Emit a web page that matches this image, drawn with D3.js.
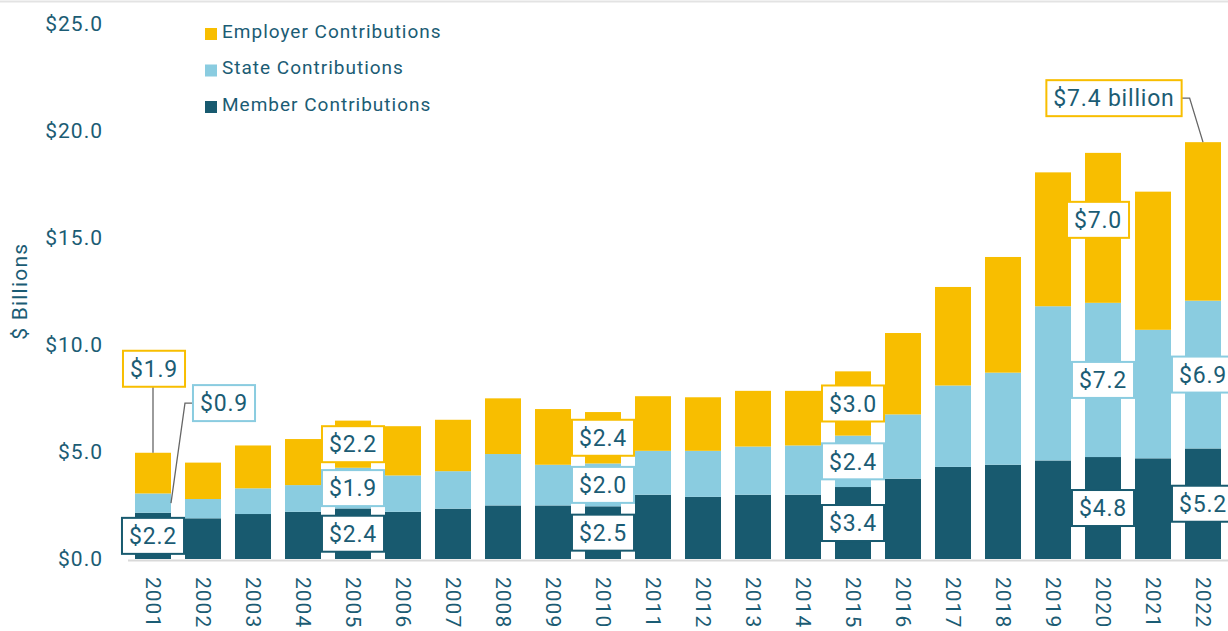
<!DOCTYPE html>
<html>
<head>
<meta charset="utf-8">
<script src="https://cdn.jsdelivr.net/npm/d3@7"></script>
<style>
  html, body { margin: 0; padding: 0; background: #fff; }
  #chart { width: 1228px; height: 631px; }
  text { font-family: Roboto, "DejaVu Sans", sans-serif; }
</style>
</head>
<body>
<div id="chart"></div>
<script>
// values, $ billions
const years = ["2001","2002","2003","2004","2005","2006","2007","2008","2009","2010","2011",
  "2012","2013","2014","2015","2016","2017","2018","2019","2020","2021","2022"];
const member = [2.16, 1.9, 2.1, 2.2, 2.36, 2.2, 2.35, 2.5, 2.5, 2.46, 3.0,
  2.9, 3.0, 3.0, 3.36, 3.75, 4.3, 4.4, 4.6, 4.76, 4.7, 5.16];
const state = [0.9, 0.9, 1.2, 1.25, 1.9, 1.7, 1.75, 2.4, 1.9, 2.0, 2.05,
  2.15, 2.25, 2.3, 2.4, 3.0, 3.8, 4.3, 7.2, 7.2, 6.0, 6.9];
const employer = [1.9, 1.7, 2.0, 2.15, 2.2, 2.3, 2.4, 2.6, 2.6, 2.4, 2.55,
  2.5, 2.6, 2.55, 3.0, 3.8, 4.6, 5.4, 6.25, 7.0, 6.45, 7.4];
const yTicks = [0, 5, 10, 15, 20, 25];

const seriesKeys = ["member", "state", "employer"];
const legendKeys = ["employer", "state", "member"];
const seriesNames = {
  employer: "Employer Contributions",
  state: "State Contributions",
  member: "Member Contributions"
};
const colors = { employer: "#f8be00", state: "#8acce0", member: "#185a6f" };
const textColor = "#1b5c74";

// which segments get a value box (placement is layout, not data)
const callouts = [
  { year: "2001", key: "member", anchor: "mid" },
  { year: "2001", key: "state", anchor: "side", dx: 53, dy: -100 },
  { year: "2001", key: "employer", anchor: "top", dx: 1, dy: -84 },
  { year: "2005", key: "member", anchor: "mid" },
  { year: "2005", key: "state", anchor: "mid" },
  { year: "2005", key: "employer", anchor: "mid" },
  { year: "2010", key: "member", anchor: "mid" },
  { year: "2010", key: "state", anchor: "mid" },
  { year: "2010", key: "employer", anchor: "mid" },
  { year: "2015", key: "member", anchor: "mid" },
  { year: "2015", key: "state", anchor: "mid" },
  { year: "2015", key: "employer", anchor: "mid" },
  { year: "2020", key: "member", anchor: "mid" },
  { year: "2020", key: "state", anchor: "mid" },
  { year: "2020", key: "employer", anchor: "mid", dx: -5, dy: -8 },
  { year: "2022", key: "member", anchor: "mid" },
  { year: "2022", key: "state", anchor: "mid" },
  { year: "2022", key: "employer", anchor: "top", dx: -89, dy: -44, suffix: " billion" }
];

const width = 1228, height = 631;
const margin = { left: 128, right: 0, top: 23.5, bottom: 72 };

const data = years.map((y, i) => ({
  year: y, member: member[i], state: state[i], employer: employer[i]
}));
const stacked = d3.stack().keys(seriesKeys)(data);

const svg = d3.select("#chart").append("svg")
  .attr("width", width)
  .attr("height", height);

// faint rule along the very top
svg.append("line")
  .attr("x1", 0).attr("x2", width)
  .attr("y1", 1.5).attr("y2", 1.5)
  .attr("stroke", "#e3e3e3").attr("stroke-width", 2);

const x = d3.scaleBand()
  .domain(years)
  .range([margin.left, width - margin.right])
  .paddingInner(0.28)
  .paddingOuter(0.14);

const y = d3.scaleLinear()
  .domain([0, 25])
  .range([height - margin.bottom, margin.top]);

// baseline
svg.append("line")
  .attr("x1", margin.left).attr("x2", width)
  .attr("y1", y(0) + 1.5).attr("y2", y(0) + 1.5)
  .attr("stroke", "#d9d9d9").attr("stroke-width", 2);

// bars
svg.append("g")
  .selectAll("g")
  .data(stacked)
  .join("g")
    .attr("fill", (s) => colors[s.key])
  .selectAll("rect")
  .data((s) => s)
  .join("rect")
    .attr("x", (d) => x(d.data.year))
    .attr("width", x.bandwidth())
    .attr("y", (d) => y(d[1]))
    .attr("height", (d) => y(d[0]) - y(d[1]));

// y axis
const yAxis = svg.append("g")
  .attr("transform", "translate(106,0)")
  .call(d3.axisLeft(y).tickValues(yTicks).tickSize(0).tickPadding(3)
    .tickFormat((d) => "$" + d.toFixed(1)));
yAxis.select(".domain").remove();
yAxis.selectAll("text")
  .attr("fill", textColor)
  .style("font-size", "21px")
  .style("letter-spacing", "1px");

svg.append("text")
  .attr("transform", `translate(27,${(y(10) + y(15)) / 2}) rotate(-90)`)
  .attr("text-anchor", "middle")
  .attr("fill", textColor)
  .style("font-size", "21px")
  .style("letter-spacing", "1.2px")
  .text("$ Billions");

// x axis, years rotated
const xAxis = svg.append("g")
  .attr("transform", `translate(0,${y(0)})`)
  .call(d3.axisBottom(x).tickSize(0));
xAxis.select(".domain").remove();
xAxis.selectAll("text")
  .attr("transform", "rotate(90)")
  .attr("x", 18)
  .attr("y", 0)
  .attr("dy", "0.35em")
  .attr("text-anchor", "start")
  .attr("fill", textColor)
  .style("font-size", "21px")
  .style("letter-spacing", "1px");

// legend
const legend = svg.append("g").attr("transform", "translate(205,28)");
legendKeys.forEach((k, i) => {
  const row = legend.append("g").attr("transform", `translate(0,${i * 36.5})`);
  row.append("rect")
    .attr("width", 12).attr("height", 12)
    .attr("fill", colors[k]);
  row.append("text")
    .attr("x", 17).attr("y", 3)
    .attr("dy", "0.35em")
    .attr("fill", textColor)
    .style("font-size", "19px")
    .style("letter-spacing", "1px")
    .text(seriesNames[k]);
});

// value boxes
const boxes = svg.append("g");
const boxH = 36, padX = 7;
callouts.forEach((c) => {
  const layer = stacked.find((s) => s.key === c.key);
  const seg = layer[years.indexOf(c.year)];
  const cx = x(c.year) + x.bandwidth() / 2;
  const yMid = (y(seg[0]) + y(seg[1])) / 2;
  let ax = cx, ay = yMid;
  if (c.anchor === "top") ay = y(seg[1]);
  if (c.anchor === "side") ax = x(c.year) + x.bandwidth();
  const bx = ax + (c.dx || 0);
  const by = ay + (c.dy || 0);

  const g = boxes.append("g");
  const label = g.append("text")
    .attr("x", bx).attr("y", by)
    .attr("dy", "0.36em")
    .attr("text-anchor", "middle")
    .attr("fill", textColor)
    .style("font-size", "23px")
    .style("letter-spacing", "0.8px")
    .text("$" + seg.data[c.key].toFixed(1) + (c.suffix || ""));
  const w = label.node().getComputedTextLength() + padX * 2;

  if (c.anchor !== "mid") {
    let pts;
    if (Math.abs(c.dx || 0) < 5) {
      pts = [[ax, ay], [ax, by + boxH / 2]];
    } else {
      const sgn = c.dx > 0 ? 1 : -1;
      const edge = bx - sgn * w / 2;
      pts = [[ax, ay], [edge - sgn * 8, by], [edge, by]];
    }
    g.insert("path", "text")
      .attr("d", d3.line()(pts))
      .attr("fill", "none")
      .attr("stroke", "#666")
      .attr("stroke-width", 1.3);
  }

  g.insert("rect", "text")
    .attr("x", bx - w / 2)
    .attr("y", by - boxH / 2)
    .attr("width", w)
    .attr("height", boxH)
    .attr("fill", "#fff")
    .attr("stroke", colors[c.key])
    .attr("stroke-width", 2);
});
</script>
</body>
</html>
